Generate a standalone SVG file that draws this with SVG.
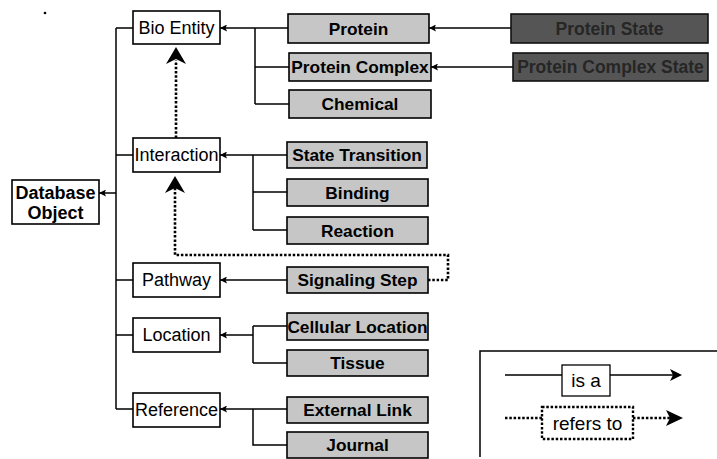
<svg xmlns="http://www.w3.org/2000/svg" width="717" height="459" viewBox="0 0 717 459">
<defs>
<marker id="ah" viewBox="0 0 10 10" refX="10" refY="5" markerWidth="7" markerHeight="7" markerUnits="userSpaceOnUse" orient="auto">
<path d="M0,0 L10,5 L0,10 L2,5 Z" fill="#000"/>
</marker>
</defs>
<style>
.w{fill:#fff;stroke:#000;stroke-width:1.6}
.g{fill:#c6c6c6;stroke:#000;stroke-width:1.6}
.d{fill:#555;stroke:#111;stroke-width:1.6}
.tw{font-family:"Liberation Sans",Arial,sans-serif;font-size:18px;fill:#000;text-anchor:middle}
.tb{font-family:"Liberation Sans",Arial,sans-serif;font-size:17.3px;font-weight:bold;fill:#000;text-anchor:middle}
.td{font-family:"Liberation Sans",Arial,sans-serif;font-size:17.5px;font-weight:bold;fill:#262626;text-anchor:middle}
.tl{font-family:"Liberation Sans",Arial,sans-serif;font-size:19px;fill:#000;text-anchor:middle}
.c{fill:none;stroke:#000;stroke-width:1.5}
.ca{fill:none;stroke:#000;stroke-width:1.5;marker-end:url(#ah)}
.dt{fill:none;stroke:#000;stroke-width:2.6;stroke-dasharray:2.5 1.8}
</style>
<circle cx="45" cy="13" r="1.3" fill="#000"/>
<g id="connectors">
<path class="c" d="M116,28 V409"/>
<path class="c" d="M116,28 H133 M116,155 H133 M116,280 H133 M116,335 H133 M116,409 H133"/>
<path class="ca" d="M116,193 H99"/>
<path class="ca" d="M288,28 H220"/>
<path class="c" d="M255,28 V104 M255,67 H289 M255,104 H289"/>
<path class="ca" d="M511,28 H429"/>
<path class="ca" d="M513,67 H431"/>
<path class="ca" d="M287,155 H220"/>
<path class="c" d="M253,155 V230 M253,192 H287 M253,230 H287"/>
<path class="ca" d="M287,280 H220"/>
<path class="ca" d="M253,335 H220"/>
<path class="c" d="M253,326 V363 M253,326 H287 M253,363 H287"/>
<path class="ca" d="M287,409 H220"/>
<path class="c" d="M253,409 V445 H287"/>
<path class="dt" d="M176,138 V60"/>
<path d="M176,47 L186,64 L176,59 L166,64 Z" fill="#000"/>
<path class="dt" d="M428,280 H448 V255 H175 V188"/>
<path d="M175,176 L185,193 L175,188 L165,193 Z" fill="#000"/>
</g>
<g id="bio-entity"><rect class="w" x="133" y="11" width="87" height="33"/><text class="tw" x="176.5" y="34">Bio Entity</text></g>
<g id="interaction"><rect class="w" x="133" y="138" width="87" height="34"/><text class="tw" x="176.5" y="161">Interaction</text></g>
<g id="database-object"><rect class="w" x="12" y="180" width="87" height="44"/><text class="tb" x="55.5" y="199" style="font-size:18px">Database</text><text class="tb" x="55.5" y="219" style="font-size:18px">Object</text></g>
<g id="pathway"><rect class="w" x="133" y="263" width="87" height="34"/><text class="tw" x="176.5" y="286">Pathway</text></g>
<g id="location"><rect class="w" x="133" y="318" width="87" height="34"/><text class="tw" x="176.5" y="341">Location</text></g>
<g id="reference"><rect class="w" x="133" y="393" width="87" height="34"/><text class="tw" x="176.5" y="416">Reference</text></g>
<g id="protein"><rect class="g" x="288" y="14" width="141" height="29"/><text class="tb" x="358.5" y="35">Protein</text></g>
<g id="protein-complex"><rect class="g" x="289" y="53" width="142" height="28"/><text class="tb" x="360" y="73">Protein Complex</text></g>
<g id="chemical"><rect class="g" x="289" y="90" width="142" height="28"/><text class="tb" x="360" y="110">Chemical</text></g>
<g id="protein-state"><rect class="d" x="511" y="14" width="197" height="29"/><text class="td" x="609.5" y="35">Protein State</text></g>
<g id="protein-complex-state"><rect class="d" x="513" y="53" width="195" height="28"/><text class="td" x="610.5" y="73">Protein Complex State</text></g>
<g id="state-transition"><rect class="g" x="287" y="142" width="140" height="26"/><text class="tb" x="357" y="161">State Transition</text></g>
<g id="binding"><rect class="g" x="287" y="179" width="141" height="27"/><text class="tb" x="357.5" y="199">Binding</text></g>
<g id="reaction"><rect class="g" x="287" y="217" width="141" height="27"/><text class="tb" x="357.5" y="237">Reaction</text></g>
<g id="signaling-step"><rect class="g" x="287" y="267" width="141" height="26"/><text class="tb" x="357.5" y="286">Signaling Step</text></g>
<g id="cellular-location"><rect class="g" x="287" y="313" width="141" height="27"/><text class="tb" x="357.5" y="333">Cellular Location</text></g>
<g id="tissue"><rect class="g" x="287" y="350" width="141" height="26"/><text class="tb" x="357.5" y="369">Tissue</text></g>
<g id="external-link"><rect class="g" x="287" y="397" width="141" height="26"/><text class="tb" x="357.5" y="416">External Link</text></g>
<g id="journal"><rect class="g" x="287" y="432" width="141" height="26"/><text class="tb" x="357.5" y="451">Journal</text></g>
<g id="legend">
<path class="c" d="M717,351 H480 V457"/>
<path class="c" d="M505,375 H562 M610,375 H674"/>
<path d="M682,375 L670,369 L673,375 L670,381 Z" fill="#000"/>
<rect class="w" x="562" y="365" width="48" height="31" style="stroke-width:1.3"/>
<text class="tl" x="586" y="387">is a</text>
<path class="dt" d="M505,418 H542 M633,418 H670"/>
<rect x="542" y="407" width="91" height="32" fill="#fff" stroke="#000" stroke-width="2.4" stroke-dasharray="2.5 1.8"/>
<text class="tl" x="587.5" y="430">refers to</text>
<path d="M683,418 L666,410 L670,418 L666,426 Z" fill="#000"/>
</g>
</svg>
